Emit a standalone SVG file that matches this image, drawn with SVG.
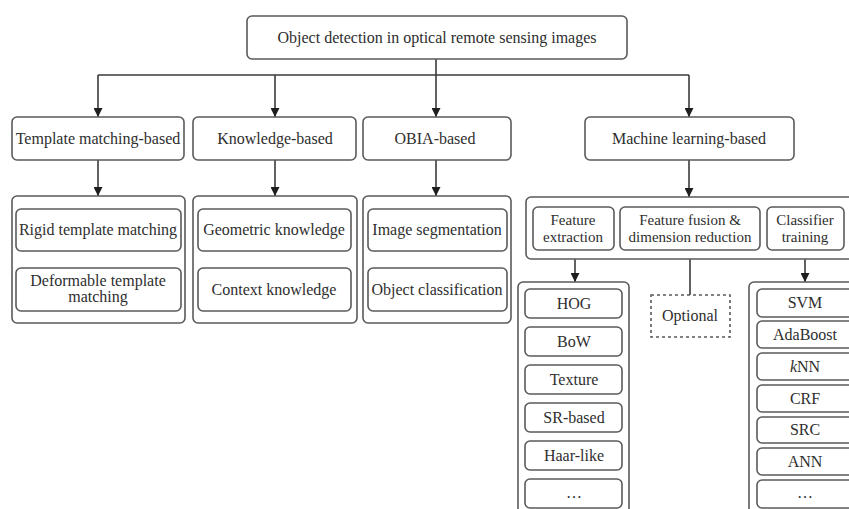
<svg xmlns="http://www.w3.org/2000/svg" width="849" height="509" viewBox="0 0 849 509">
<style>
  .box{fill:#fff;stroke:#5a5a5a;stroke-width:1.6}
  .dash{fill:#fff;stroke:#5a5a5a;stroke-width:1.6;stroke-dasharray:3 3}
  .t{font-family:"Liberation Serif","Times New Roman",serif;font-size:16px;fill:#2e2e2e;text-anchor:middle}
  .s{font-size:15px}
  .ln{fill:none;stroke:#3a3a3a;stroke-width:1.6}
</style>
<defs>
  <marker id="ah" viewBox="0 0 10 10" refX="10" refY="5" markerWidth="9" markerHeight="9" markerUnits="userSpaceOnUse" orient="auto">
    <path d="M0,0 L10,5 L0,10 Z" fill="#1e1e1e"/>
  </marker>
</defs>
<rect width="849" height="509" fill="#fff"/>

<g id="connectors">
  <path class="ln" d="M436,59 V75"/>
  <path class="ln" d="M98,75 H689"/>
  <path class="ln" d="M98,75 V117" marker-end="url(#ah)"/>
  <path class="ln" d="M275,75 V117" marker-end="url(#ah)"/>
  <path class="ln" d="M436,75 V117" marker-end="url(#ah)"/>
  <path class="ln" d="M689,75 V117" marker-end="url(#ah)"/>
  <path class="ln" d="M98,160 V196" marker-end="url(#ah)"/>
  <path class="ln" d="M275,160 V196" marker-end="url(#ah)"/>
  <path class="ln" d="M436,160 V196" marker-end="url(#ah)"/>
  <path class="ln" d="M689,160 V197" marker-end="url(#ah)"/>
  <path class="ln" d="M575,250 V282" marker-end="url(#ah)"/>
  <path class="ln" d="M690,250 V295"/>
  <path class="ln" d="M805,250 V282" marker-end="url(#ah)"/>
</g>

<g id="root">
  <rect class="box" x="247" y="16" width="380" height="43" rx="5"/>
  <text class="t" x="437" y="43">Object detection in optical remote sensing images</text>
</g>

<g id="template-matching">
  <rect class="box" x="12" y="117" width="172" height="43" rx="5"/>
  <text class="t" x="98" y="144">Template matching-based</text>
</g>
<g id="knowledge">
  <rect class="box" x="193" y="117" width="163" height="43" rx="5"/>
  <text class="t" x="275" y="144">Knowledge-based</text>
</g>
<g id="obia">
  <rect class="box" x="363" y="117" width="148" height="43" rx="5"/>
  <text class="t" x="435" y="144">OBIA-based</text>
</g>
<g id="machine-learning">
  <rect class="box" x="585" y="117" width="209" height="43" rx="5"/>
  <text class="t" x="689" y="144">Machine learning-based</text>
</g>

<g id="template-group">
  <rect class="box" x="12" y="196" width="173" height="127" rx="5"/>
  <g id="rigid">
    <rect class="box" x="16" y="209" width="165" height="42" rx="5"/>
    <text class="t" x="98" y="235">Rigid template matching</text>
  </g>
  <g id="deformable">
    <rect class="box" x="16" y="268" width="165" height="43" rx="5"/>
    <text class="t" x="98" y="286">Deformable template</text>
    <text class="t" x="98" y="302">matching</text>
  </g>
</g>

<g id="knowledge-group">
  <rect class="box" x="193" y="196" width="164" height="127" rx="5"/>
  <g id="geometric">
    <rect class="box" x="198" y="209" width="153" height="42" rx="5"/>
    <text class="t" x="274" y="235">Geometric knowledge</text>
  </g>
  <g id="context">
    <rect class="box" x="198" y="268" width="153" height="43" rx="5"/>
    <text class="t" x="274" y="295">Context knowledge</text>
  </g>
</g>

<g id="obia-group">
  <rect class="box" x="363" y="196" width="148" height="127" rx="5"/>
  <g id="segmentation">
    <rect class="box" x="368" y="209" width="139" height="42" rx="5"/>
    <text class="t" x="437" y="235">Image segmentation</text>
  </g>
  <g id="classification">
    <rect class="box" x="368" y="268" width="139" height="43" rx="5"/>
    <text class="t" x="437" y="295">Object classification</text>
  </g>
</g>

<g id="ml-group">
  <rect class="box" x="526" y="197" width="340" height="62" rx="5"/>
  <g id="feature-extraction">
    <rect class="box" x="533" y="207" width="81" height="43" rx="5"/>
    <text class="t s" x="573" y="225">Feature</text>
    <text class="t s" x="573" y="242">extraction</text>
  </g>
  <g id="feature-fusion">
    <rect class="box" x="620" y="207" width="140" height="43" rx="5"/>
    <text class="t s" x="690" y="225">Feature fusion &amp;</text>
    <text class="t s" x="690" y="242">dimension reduction</text>
  </g>
  <g id="classifier-training">
    <rect class="box" x="767" y="207" width="77" height="43" rx="5"/>
    <text class="t s" x="805" y="225">Classifier</text>
    <text class="t s" x="805" y="242">training</text>
  </g>
</g>

<g id="optional">
  <rect class="dash" x="651" y="295" width="79" height="42"/>
  <text class="t" x="690" y="321">Optional</text>
</g>

<g id="features-list">
  <rect class="box" x="518" y="282" width="111" height="250" rx="5"/>
  <g id="hog"><rect class="box" x="525" y="289" width="97" height="29" rx="5"/><text class="t" x="574" y="309">HOG</text></g>
  <g id="bow"><rect class="box" x="525" y="327" width="97" height="29" rx="5"/><text class="t" x="574" y="347">BoW</text></g>
  <g id="texture"><rect class="box" x="525" y="365" width="97" height="29" rx="5"/><text class="t" x="574" y="385">Texture</text></g>
  <g id="sr-based"><rect class="box" x="525" y="403" width="97" height="29" rx="5"/><text class="t" x="574" y="423">SR-based</text></g>
  <g id="haar"><rect class="box" x="525" y="441" width="97" height="29" rx="5"/><text class="t" x="574" y="461">Haar-like</text></g>
  <g id="feat-more"><rect class="box" x="525" y="479" width="97" height="29" rx="5"/><text class="t" x="574" y="498">…</text></g>
</g>

<g id="classifiers-list">
  <rect class="box" x="749" y="282" width="120" height="250" rx="5"/>
  <g id="svm"><rect class="box" x="757" y="289" width="100" height="28" rx="5"/><text class="t" x="805" y="308">SVM</text></g>
  <g id="adaboost"><rect class="box" x="757" y="321" width="100" height="27" rx="5"/><text class="t" x="805" y="340">AdaBoost</text></g>
  <g id="knn"><rect class="box" x="757" y="353" width="100" height="27" rx="5"/><text class="t" x="805" y="372"><tspan font-style="italic">k</tspan>NN</text></g>
  <g id="crf"><rect class="box" x="757" y="385" width="100" height="27" rx="5"/><text class="t" x="805" y="404">CRF</text></g>
  <g id="src"><rect class="box" x="757" y="417" width="100" height="26" rx="5"/><text class="t" x="805" y="435">SRC</text></g>
  <g id="ann"><rect class="box" x="757" y="448" width="100" height="27" rx="5"/><text class="t" x="805" y="467">ANN</text></g>
  <g id="clf-more"><rect class="box" x="757" y="480" width="100" height="28" rx="5"/><text class="t" x="805" y="498">…</text></g>
</g>
</svg>
